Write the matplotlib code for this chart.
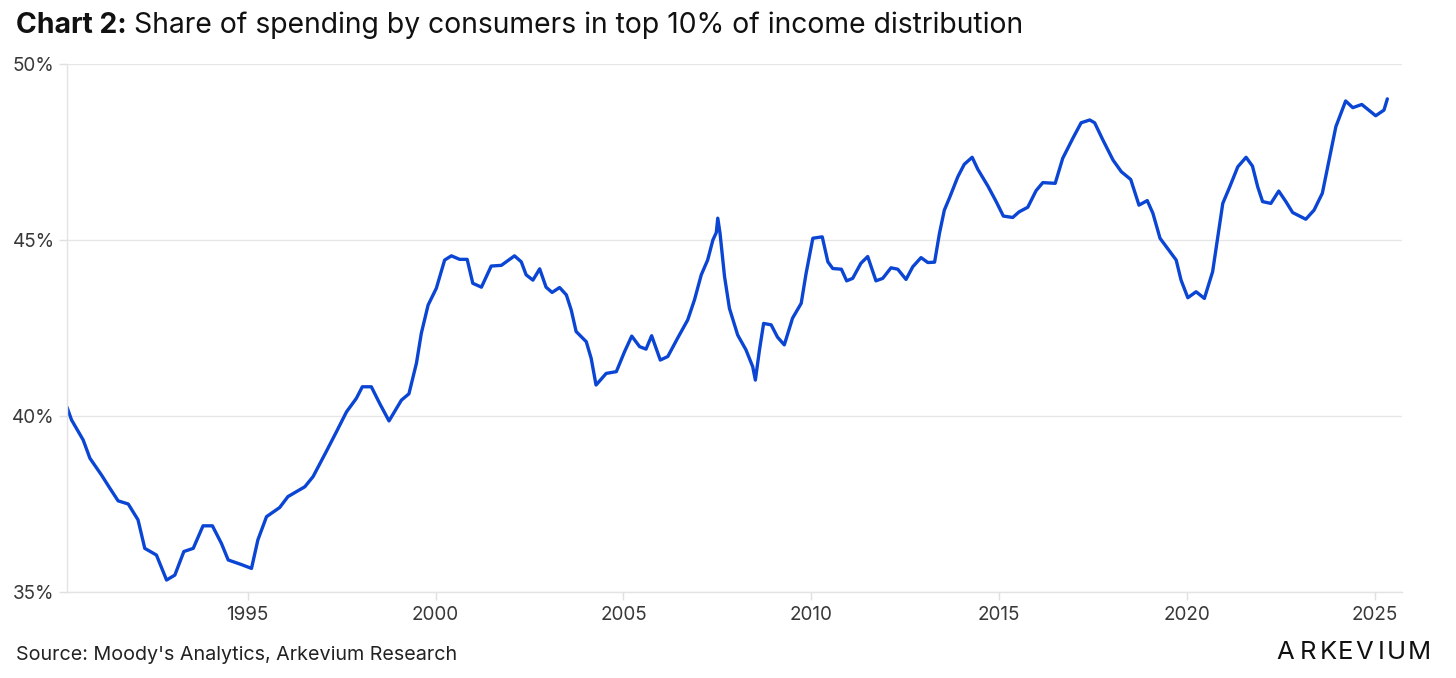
import matplotlib
matplotlib.use("Agg")
import matplotlib.pyplot as plt
from matplotlib.ticker import FuncFormatter

# values (share of spending, %)
years = [
    1990.19, 1990.31, 1990.62, 1990.80, 1991.11, 1991.33, 1991.55, 1991.82, 1992.08, 1992.26,
    1992.57, 1992.84, 1993.06, 1993.30, 1993.55, 1993.81, 1994.06, 1994.30, 1994.48, 1994.83,
    1995.10, 1995.27, 1995.50, 1995.85, 1996.07, 1996.52, 1996.74, 1997.09, 1997.36, 1997.63,
    1997.89, 1998.05, 1998.29, 1998.51, 1998.76, 1999.09, 1999.29, 1999.49, 1999.62, 1999.80,
    2000.02, 2000.24, 2000.42, 2000.64, 2000.84, 2000.99, 2001.22, 2001.48, 2001.75, 2002.10,
    2002.28, 2002.41, 2002.59, 2002.77, 2002.94, 2003.10, 2003.30, 2003.48, 2003.61, 2003.74,
    2004.01, 2004.14, 2004.27, 2004.54, 2004.81, 2005.03, 2005.22, 2005.43, 2005.60, 2005.75,
    2005.98, 2006.18, 2006.44, 2006.71, 2006.89, 2007.07, 2007.24, 2007.38, 2007.47, 2007.51,
    2007.57, 2007.69, 2007.82, 2008.04, 2008.26, 2008.44, 2008.51, 2008.62, 2008.73, 2008.93,
    2009.10, 2009.28, 2009.50, 2009.73, 2009.86, 2010.04, 2010.29, 2010.44, 2010.57, 2010.80,
    2010.94, 2011.10, 2011.32, 2011.50, 2011.72, 2011.90, 2012.12, 2012.30, 2012.52, 2012.70,
    2012.92, 2013.10, 2013.28, 2013.41, 2013.54, 2013.67, 2013.90, 2014.07, 2014.28, 2014.43,
    2014.70, 2014.92, 2015.11, 2015.36, 2015.53, 2015.76, 2015.98, 2016.16, 2016.49, 2016.69,
    2016.96, 2017.18, 2017.41, 2017.54, 2017.76, 2018.03, 2018.25, 2018.50, 2018.72, 2018.94,
    2019.09, 2019.28, 2019.55, 2019.71, 2019.84, 2020.02, 2020.24, 2020.46, 2020.68, 2020.86,
    2020.95, 2021.12, 2021.35, 2021.57, 2021.74, 2021.88, 2022.01, 2022.23, 2022.44, 2022.63,
    2022.81, 2023.16, 2023.38, 2023.60, 2023.78, 2023.96, 2024.22, 2024.41, 2024.65, 2025.02,
    2025.24, 2025.33,
]
share = [
    40.25, 39.89, 39.32, 38.80, 38.32, 37.95, 37.59, 37.50, 37.05, 36.24,
    36.05, 35.34, 35.48, 36.15, 36.24, 36.88, 36.88, 36.38, 35.91, 35.78,
    35.67, 36.48, 37.14, 37.40, 37.71, 37.99, 38.28, 38.99, 39.55, 40.12,
    40.50, 40.83, 40.83, 40.36, 39.86, 40.45, 40.63, 41.50, 42.35, 43.15,
    43.63, 44.43, 44.55, 44.45, 44.45, 43.77, 43.66, 44.26, 44.28, 44.55,
    44.38, 44.01, 43.86, 44.18, 43.66, 43.51, 43.65, 43.44, 43.01, 42.40,
    42.11, 41.64, 40.88, 41.21, 41.26, 41.83, 42.27, 41.97, 41.90, 42.28,
    41.59, 41.69, 42.21, 42.73, 43.30, 44.01, 44.43, 45.00, 45.21, 45.62,
    45.19, 43.96, 43.06, 42.30, 41.88, 41.40, 41.02, 41.88, 42.63, 42.59,
    42.24, 42.02, 42.78, 43.20, 44.05, 45.05, 45.09, 44.38, 44.19, 44.17,
    43.84, 43.91, 44.34, 44.53, 43.84, 43.91, 44.21, 44.17, 43.88, 44.24,
    44.50, 44.36, 44.37, 45.19, 45.85, 46.18, 46.80, 47.15, 47.35, 47.01,
    46.53, 46.09, 45.68, 45.64, 45.80, 45.93, 46.40, 46.63, 46.61, 47.32,
    47.89, 48.33, 48.41, 48.33, 47.84, 47.27, 46.94, 46.72, 45.99, 46.12,
    45.76, 45.05, 44.66, 44.43, 43.86, 43.36, 43.53, 43.34, 44.10, 45.38,
    46.04, 46.47, 47.08, 47.35, 47.10, 46.51, 46.09, 46.04, 46.39, 46.09,
    45.78, 45.59, 45.85, 46.33, 47.27, 48.22, 48.95, 48.76, 48.85, 48.53,
    48.69, 49.01,
]
x_ticks = [1995, 2000, 2005, 2010, 2015, 2020, 2025]
y_ticks = [35, 40, 45, 50]

plt.rcParams['font.family'] = ['Inter', 'DejaVu Sans']

W, H = 1456, 678
fig = plt.figure(figsize=(W / 100, H / 100), dpi=100)
ax = fig.add_axes([67 / W, 1 - 592 / H, (1402 - 67) / W, (592 - 64) / H])

ax.plot(years, share, color='#0b45d4', linewidth=2.4, solid_joinstyle='round',
        solid_capstyle='round')

ax.set_xlim(1990.19, 2025.72)
ax.set_ylim(35, 50)
ax.set_xticks(x_ticks)
ax.set_yticks(y_ticks)
ax.yaxis.set_major_formatter(FuncFormatter(lambda v, p: f'{v:.0f}%'))
ax.grid(axis='y', color='#e6e6e6', linewidth=1)
ax.set_axisbelow(True)

for s in ['top', 'right']:
    ax.spines[s].set_visible(False)
for s in ['left', 'bottom']:
    ax.spines[s].set_color('#e3e3e3')
    ax.spines[s].set_linewidth(1)

ax.tick_params(axis='both', colors='#e0e0e0', labelcolor='#383838', labelsize=13.6,
               width=1, length=6)
ax.tick_params(axis='y', pad=3)
ax.tick_params(axis='x', pad=4)

# title: bold lead-in followed by regular text
t1 = fig.text(16 / W, 1 - 33 / H, 'Chart 2:', fontsize=20.4, fontweight='bold',
              color='#111111', va='baseline', ha='left')
fig.canvas.draw()
bb = t1.get_window_extent(renderer=fig.canvas.get_renderer())
fig.text((bb.x1 + 7) / W, 1 - 33 / H,
         'Share of spending by consumers in top 10% of income distribution',
         fontsize=20.4, color='#111111', va='baseline', ha='left')

fig.text(16 / W, 1 - 660 / H, "Source: Moody's Analytics, Arkevium Research",
         fontsize=14.2, color='#222222', va='baseline', ha='left')

# logo, letter-spaced
logo = 'ARKEVIUM'
logo_x = [1285, 1307.5, 1328, 1345, 1364, 1381, 1396.5, 1419]
for ch, lx in zip(logo, logo_x):
    fig.text(lx / W, 1 - 659 / H, ch, fontsize=18.5, color='#111111',
             va='baseline', ha='center')

fig.savefig('out.png', dpi=100)
